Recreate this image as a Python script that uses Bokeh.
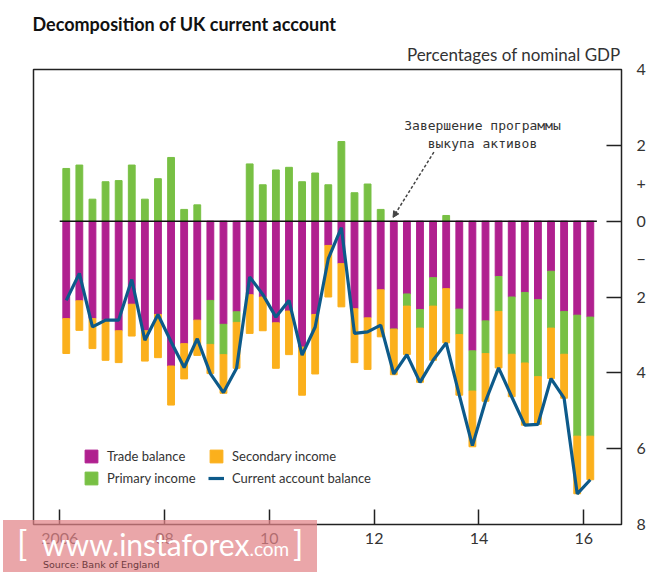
import numpy as np
from bokeh.plotting import figure
from bokeh.layouts import column
from bokeh.models import (
    ColumnDataSource,
    FixedTicker,
    LinearAxis,
    Label,
    Legend,
    LegendItem,
    Arrow,
    NormalHead,
    Range1d,
    Title,
    Div,
)
from bokeh.embed import file_html
from bokeh.resources import INLINE

# quarters 2006 Q1 .. 2016 Q1
quarters = [f"{y} Q{q}" for y in range(2006, 2017) for q in range(1, 5)][:41]

# percentages of nominal GDP
trade = [-2.57, -2.10, -2.57, -2.61, -2.89, -2.19, -2.89, -2.46, -3.82, -3.23,
         -2.61, -2.09, -2.72, -2.39, -1.94, -2.00, -2.68, -2.37, -3.32, -2.46,
         -0.64, -1.12, -2.31, -2.55, -1.81, -2.85, -1.92, -2.33, -1.49, -1.78,
         -2.32, -3.42, -2.63, -1.46, -2.00, -1.88, -2.07, -1.32, -2.38, -2.48, -2.53]
primary = [1.39, 1.48, 0.58, 1.04, 1.07, 1.48, 0.58, 1.12, 1.68, 0.31,
           0.43, -1.16, -0.80, -0.28, 1.51, 0.96, 1.35, 1.42, 1.04, 1.27,
           0.96, 2.10, 0.75, 0.98, 0.31, 0.00, -0.32, -0.49, -0.75, 0.15,
           -0.67, -1.06, -0.86, -0.92, -1.51, -1.86, -2.03, -1.50, -1.13, -3.19, -3.14]
secondary = [-0.92, -0.78, -0.79, -1.06, -0.84, -0.84, -0.80, -1.14, -1.03, -0.93,
             -0.93, -0.77, -1.02, -1.21, -1.02, -0.89, -1.20, -1.15, -1.27, -1.57,
             -1.36, -1.14, -1.42, -1.36, -1.24, -1.20, -1.28, -1.43, -1.43, -1.43,
             -1.60, -1.47, -1.26, -1.49, -1.12, -1.64, -1.26, -1.33, -1.16, -1.52, -1.15]
current = [-2.09, -1.38, -2.79, -2.61, -2.61, -1.54, -3.14, -2.46, -3.18, -3.86,
           -3.10, -4.02, -4.52, -3.88, -1.47, -1.93, -2.53, -2.09, -3.53, -2.79,
           -0.99, -0.17, -2.96, -2.92, -2.74, -4.03, -3.52, -4.25, -3.67, -3.21,
           -4.59, -5.92, -4.75, -3.87, -4.63, -5.38, -5.36, -4.15, -4.67, -7.19, -6.82]

x_ticks = [2006, 2008, 2010, 2012, 2014, 2016]
x_labels = ["2006", "08", "10", "12", "14", "16"]
y_ticks = [4, 2, 1, 0, -1, -2, -4, -6, -8]
y_labels = ["4", "2", "+", "0", "\u2212", "2", "4", "6", "8"]

TRADE_C = "#b0208f"
PRIMARY_C = "#78c044"
SECONDARY_C = "#fbb01c"
LINE_C = "#0d5a8a"
FONT = "Lato"

# mid-quarter positions in years
xs = np.array([int(q[:4]) + (int(q[-1]) - 1) / 4 + 0.125 for q in quarters])
t = np.array(trade)
pr = np.array(primary)
se = np.array(secondary)
neg_p = np.minimum(pr, 0)

source = ColumnDataSource(dict(
    x=xs,
    t_top=np.zeros_like(t), t_bot=t,
    p_top=np.where(pr > 0, pr, t), p_bot=np.where(pr > 0, 0, t + pr),
    s_top=t + neg_p, s_bot=t + neg_p + se,
    ca=current,
))

p = figure(
    width=660, height=570,
    x_range=Range1d(2005.5, 2016.72), y_range=Range1d(-8, 4),
    y_axis_location=None,
    toolbar_location=None, tools="",
    output_backend="svg",
    min_border_left=33, min_border_right=39, min_border_top=69, min_border_bottom=46,
)
p.grid.visible = False
p.outline_line_color = "#222222"
p.outline_line_width = 1.5

# headers
p.add_layout(Title(text="Percentages of nominal GDP", align="right", offset=1,
                   text_font=FONT, text_font_size="17px", text_font_style="normal",
                   text_color="#333333", standoff=10), "above")
p.add_layout(Title(text="Decomposition of UK current account", align="left", offset=-1,
                   text_font=FONT, text_font_size="18px", text_font_style="bold",
                   text_color="#111111", standoff=4), "above")

bw = 0.13
r_trade = p.vbar(x="x", top="t_top", bottom="t_bot", width=bw, color=TRADE_C, source=source)
r_prim = p.vbar(x="x", top="p_top", bottom="p_bot", width=bw, color=PRIMARY_C, source=source)
r_sec = p.vbar(x="x", top="s_top", bottom="s_bot", width=bw, color=SECONDARY_C, source=source)
p.segment(x0=xs[0] - 0.125, y0=0, x1=xs[-1] + 0.125, y1=0, line_color="#111111", line_width=1.5)
r_ca = p.line(x="x", y="ca", line_color=LINE_C, line_width=3.2, source=source)

# x axis: ticks pointing inward
xa = p.xaxis[0]
xa.ticker = FixedTicker(ticks=x_ticks, minor_ticks=[])
xa.major_label_overrides = dict(zip(x_ticks, x_labels))
xa.major_tick_in = 15
xa.major_tick_out = 0
xa.major_tick_line_color = "#222222"
xa.major_tick_line_width = 1.5
xa.axis_line_color = None
xa.major_label_standoff = 8
xa.major_label_text_font = FONT
xa.major_label_text_font_size = "16px"
xa.major_label_text_color = "#333333"

# right axis, +/- markers as labels, marks drawn as minor ticks
ya = LinearAxis(ticker=FixedTicker(ticks=y_ticks, minor_ticks=[2, 0, -2, -4, -6]))
ya.major_label_overrides = dict(zip(y_ticks, y_labels))
ya.major_tick_line_color = None
ya.minor_tick_in = 15
ya.minor_tick_out = 0
ya.minor_tick_line_color = "#222222"
ya.minor_tick_line_width = 1.5
ya.axis_line_color = None
ya.major_label_standoff = 9
ya.major_label_text_font = FONT
ya.major_label_text_font_size = "16px"
ya.major_label_text_color = "#333333"
p.add_layout(ya, "right")

legend = Legend(
    items=[
        LegendItem(label="Trade balance", renderers=[r_trade]),
        LegendItem(label="Primary income", renderers=[r_prim]),
        LegendItem(label="Secondary income", renderers=[r_sec]),
        LegendItem(label="Current account balance", renderers=[r_ca]),
    ],
    ncols=2,
    location=(50, 38),
    background_fill_alpha=0,
    border_line_color=None,
    glyph_width=16, glyph_height=16,
    label_standoff=8, spacing=6, label_width=95,
    label_text_font=FONT, label_text_font_size="13px", label_text_color="#333333",
    padding=4, margin=0,
)
p.add_layout(legend)

# annotation: end of asset purchase programme
p.add_layout(Label(x=449, y=390, x_units="screen", y_units="screen",
                   text="Завершение программы\nвыкупа активов", text_align="center",
                   text_baseline="middle", text_font="DejaVu Sans Mono",
                   text_font_size="13px", text_color="#333333", text_line_height=1.15))
p.add_layout(Arrow(x_start=2013.14, y_start=1.82, x_end=2012.36, y_end=0.1,
                   line_color="#444444", line_width=1.5, line_dash="3 2",
                   end=NormalHead(size=6, fill_color="#444444", line_color="#444444")))

# watermark band with the source note, laid over the lower left corner
wm_html = (
    '<div style="position:relative;width:314px;height:52px;'
    'background:rgba(226,132,136,0.72);font-family:Lato;color:white;overflow:hidden">'
    '<span style="position:absolute;left:14px;top:6px;font-size:34px;line-height:1">[</span>'
    '<span style="position:absolute;left:39px;top:10.5px;font-size:30px;line-height:0.9;'
    'white-space:nowrap">www.instaforex<span style="font-size:19px">.com</span></span>'
    '<span style="position:absolute;left:290px;top:6px;font-size:34px;line-height:1">]</span>'
    '<span style="position:absolute;left:40px;top:39.5px;font-size:9.5px;line-height:1;'
    'font-family:\'DejaVu Sans\';color:#6e3a3e;white-space:nowrap">Source: Bank of England</span>'
    '</div>'
)
wm = Div(text=wm_html, width=314, height=52, margin=0,
         styles={"position": "absolute", "left": "3px", "top": "520px", "z-index": "10"})

layout = column(p, wm)
open("out.html", "w").write(file_html(layout, INLINE))
